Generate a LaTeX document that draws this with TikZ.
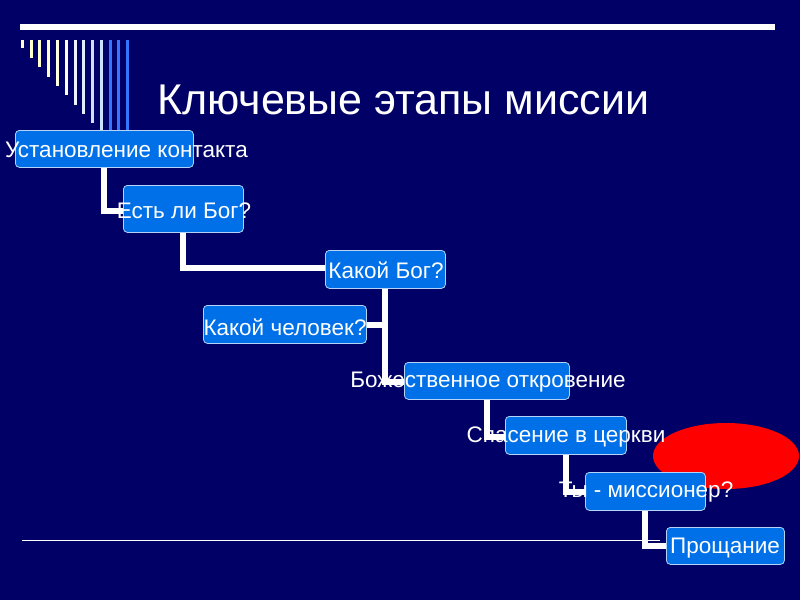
\documentclass[tikz,border=0pt]{standalone}
\usepackage{fontspec}
\setmainfont{Liberation Sans}
\definecolor{bg}{RGB}{0,0,102}
\definecolor{boxc}{RGB}{0,112,232}
\begin{document}
\begin{tikzpicture}[x=1pt,y=-1pt,
  bx/.style={draw=white!70!boxc,fill=boxc,rounded corners=4pt,line width=0.8pt},
  lbl/.style={text=white,font=\fontsize{22.5}{24}\selectfont,inner sep=0pt},
  con/.style={draw=white,line width=6pt}]
\useasboundingbox (0,0) rectangle (800,600);
\fill[bg] (0,0) rectangle (800,600);
\clip (0,0) rectangle (800,600);
\fill[white] (20,24) rectangle (775,30);
\foreach \x/\y/\c in {22/48/FFFFCC,31/58/FFFFCC,39/67/FFFFCC,48/77/FFFFCC,57/86/FFFFDD,66/95/FFFFEE,75/105/EEF4FF,83/114/DDEEFF,92/123/CCE0FF,101/135/CCE0FF,110/135/3377FF,118/135/3377FF,127/135/3377FF}{
  \definecolor{bc}{HTML}{\c}\fill[bc] (\x-1.5,40) rectangle (\x+1.5,\y);}
\draw[white,line width=0.8pt] (22,540) -- (660,540);
\node[text=white,font=\fontsize{43}{46}\selectfont,anchor=west,inner sep=0pt] (title) at (157,100) {Ключевые этапы миссии};
% connectors
\coordinate (c1) at (104,211);
\coordinate (c2) at (183,268);
\coordinate (c3a) at (385,325);
\coordinate (c3b) at (385,382);
\coordinate (c5) at (487,437);
\coordinate (c6) at (566,492);
\coordinate (c7) at (645,546);
\draw[con] (104,167) -- (c1) -- (123,211);
\draw[con] (183,232) -- (c2) -- (325,268);
\draw[con] (385,288) -- (c3b) -- (404,382);
\draw[con] (c3a) -- (366,325);
\draw[con] (487,399) -- (c5) -- (505,437);
\draw[con] (566,454) -- (c6) -- (585,492);
\draw[con] (645,510) -- (c7) -- (666,546);
\fill[red] (726,456) ellipse (73 and 33);
% boxes
\node[bx,minimum width=178,minimum height=37,anchor=north west] (b1) at (15,130) {};
\node[bx,minimum width=120,minimum height=47,anchor=north west] (b2) at (123,185) {};
\node[bx,minimum width=120,minimum height=38,anchor=north west] (b3) at (325,250) {};
\node[bx,minimum width=163,minimum height=38,anchor=north west] (b4) at (203,305) {};
\node[bx,minimum width=165,minimum height=37,anchor=north west] (b5) at (404,362) {};
\node[bx,minimum width=121,minimum height=38,anchor=north west] (b6) at (505,416) {};
\node[bx,minimum width=120,minimum height=38,anchor=north west] (b7) at (585,472) {};
\node[bx,minimum width=118,minimum height=37,anchor=north west] (b8) at (666,527) {};
\node[lbl,anchor=east] (t1) at (248,150) {Установление контакта};
\node[lbl] (t2) at (184,211) {Есть ли Бог?};
\node[lbl] (t3) at (386,270) {Какой Бог?};
\node[lbl] (t4) at (285,327) {Какой человек?};
\node[lbl] (t5) at (488,382) {Божественное откровение};
\node[lbl] (t6) at (566,437) {Спасение в церкви};
\node[lbl] (t7) at (646,492) {Ты - миссионер?};
\node[lbl] (t8) at (725,548) {Прощание};
\end{tikzpicture}
\end{document}
